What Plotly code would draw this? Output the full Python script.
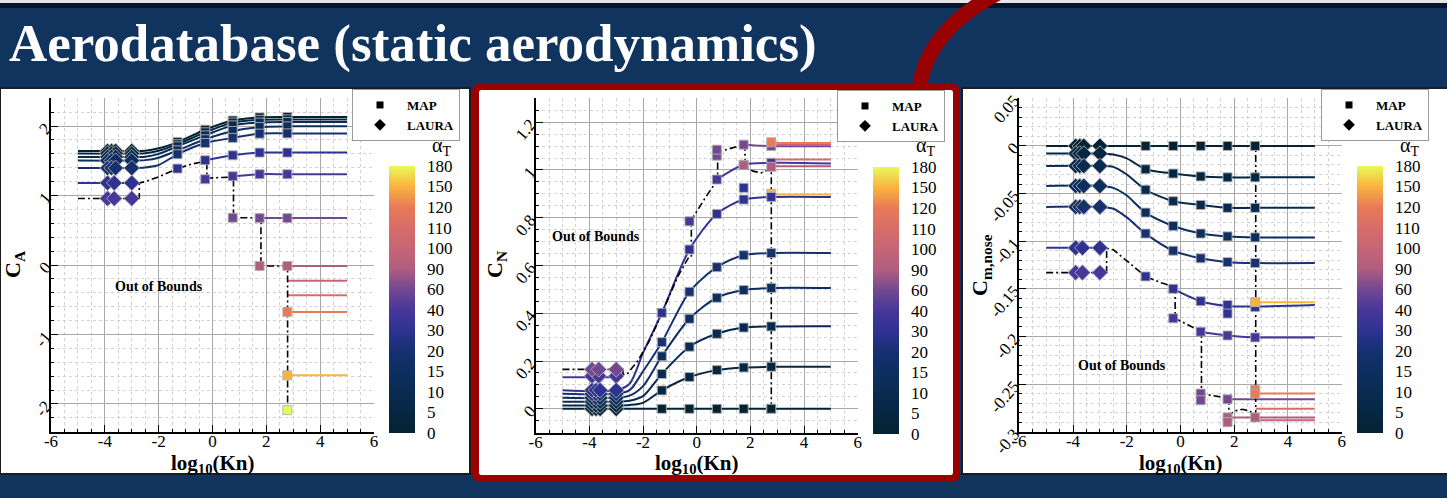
import plotly.graph_objects as go
import plotly.colors as pc

W, H = 1447, 498
FONT = "Liberation Serif"

# ---------------- data ----------------
ALPHA_LEVELS = [0, 5, 10, 15, 20, 30, 40, 60, 90, 100, 110, 120, 150, 180]
ALPHA_LABELS = ["0", "5", "10", "15", "20", "30", "40", "60", "90", "100", "110", "120", "150", "180"]

KNOTS = [-5, -3, -2.5, -2, -1.3, -0.27, 0.75, 1.75, 2.78, 5]
MAP_KN = [-1.3, -0.27, 0.75, 1.75, 2.78]
LAURA_KN = [-3.9, -3.75, -3.6, -3.0]
LAURA_KN_HI = [-3.9, -3.65, -3.0]

X_TICKS = [-6, -4, -2, 0, 2, 4, 6]
X_TICK_TEXT = ["-6", "-4", "-2", "0", "2", "4", "6"]

# ---- C_A ----
CA_BASE_ALPHA = [0, 5, 10, 15, 20]
CA_BASE = [
    [1.641, 1.641, 1.645, 1.68, 1.77, 1.948, 2.08, 2.125, 2.13, 2.13],
    [1.604, 1.604, 1.61, 1.645, 1.74, 1.91, 2.05, 2.09, 2.096, 2.096],
    [1.555, 1.555, 1.56, 1.60, 1.709, 1.866, 2.01, 2.05, 2.058, 2.058],
    [1.503, 1.503, 1.51, 1.545, 1.65, 1.81, 1.93, 1.986, 1.996, 1.996],
    [1.397, 1.397, 1.405, 1.44, 1.594, 1.756, 1.83, 1.891, 1.895, 1.895],
]
CA_SEGS = [
    (30, [-5, -2.72], [1.182, 1.182]),
    (30, [-0.27, 0.75, 1.75, 2.78, 5], [1.508, 1.579, 1.618, 1.618, 1.618]),
    (40, [0.75, 1.75, 2.78, 5], [1.278, 1.307, 1.307, 1.307]),
    (60, [1.75, 2.78, 5], [0.675, 0.675, 0.675]),
    (90, [2.78, 5], [-0.014, -0.014]),
    (100, [2.8, 5], [-0.225, -0.225]),
    (110, [2.8, 5], [-0.435, -0.435]),
    (120, [2.78, 5], [-0.675, -0.675]),
    (150, [2.78, 5], [-1.589, -1.589]),
]
CA_MAP = [
    (30, [-1.3, -0.27, 0.75, 1.75, 2.78], [1.388, 1.508, 1.579, 1.618, 1.618]),
    (40, [-0.27, 0.75, 1.75, 2.78], [1.235, 1.278, 1.307, 1.307]),
    (60, [0.75, 1.75, 2.78], [0.68, 0.675, 0.675]),
    (90, [1.75, 2.78], [-0.014, -0.014]),
    (120, [2.78], [-0.675]),
    (150, [2.78], [-1.589]),
    (180, [2.78], [-2.09]),
]
CA_LAURA = [
    (30, LAURA_KN_HI, [1.182, 1.182, 1.182]),
    (40, LAURA_KN_HI, [0.957, 0.957, 0.957]),
]
CA_BOUND_X = [-5, -2.72, -2.72, -2.5, -2.0, -1.3, -0.8, -0.21, -0.21, 0.78, 0.78, 1.8, 1.8, 2.79, 2.79]
CA_BOUND_Y = [0.957, 0.957, 1.182, 1.20, 1.27, 1.388, 1.45, 1.50, 1.25, 1.268, 0.68, 0.68, -0.014, -0.014, -2.09]
CA_Y_TICKS = [-2, -1, 0, 1, 2]
CA_Y_TEXT = ["-2", "-1", "0", "1", "2"]

# ---- C_N ----
CN_BASE_ALPHA = [0, 5, 10, 15, 20, 30]
CN_BASE = [
    [0, 0, 0, 0, 0, 0, 0, 0, 0, 0],
    [0.014, 0.014, 0.016, 0.025, 0.077, 0.133, 0.162, 0.173, 0.176, 0.176],
    [0.030, 0.030, 0.034, 0.053, 0.146, 0.26, 0.314, 0.340, 0.345, 0.346],
    [0.046, 0.046, 0.055, 0.095, 0.22, 0.377, 0.465, 0.497, 0.506, 0.506],
    [0.063, 0.063, 0.078, 0.157, 0.279, 0.49, 0.593, 0.643, 0.652, 0.652],
    [0.078, 0.078, 0.105, 0.234, 0.402, 0.667, 0.816, 0.876, 0.887, 0.887],
]
CN_SEGS = [
    (40, [-5, -2.75], [0.132, 0.132]),
    (40, [0.75, 1.75, 2.78, 5], [0.96, 1.022, 1.03, 1.027]),
    (60, [1.75, 2.78, 5], [1.106, 1.10, 1.099]),
    (90, [2.78, 5], [1.016, 1.016]),
    (100, [2.8, 5], [1.105, 1.105]),
    (110, [2.8, 5], [1.044, 1.044]),
    (120, [2.78, 5], [1.113, 1.113]),
    (150, [2.78, 5], [0.897, 0.897]),
]
CN_MAP = [
    (180, [2.76], [0.0]),
    (30, [1.75], [0.925]),
    (40, [-0.27, 0.75, 1.75, 2.78], [0.785, 0.96, 1.022, 1.03]),
    (60, [0.75, 0.75, 1.75, 2.78], [1.06, 1.085, 1.106, 1.10]),
    (90, [1.75, 2.78], [1.02, 1.013]),
    (120, [2.78], [1.116]),
    (150, [2.78], [0.90]),
]
CN_LAURA = [
    (40, LAURA_KN_HI, [0.137, 0.137, 0.137]),
    (60, LAURA_KN_HI, [0.165, 0.165, 0.165]),
]
CN_BOUND_X = [-5, -2.75, -2.75, -2.6, -2.2, -1.74, -1.29, -0.7, -0.27, -0.2, -0.2, 0.3, 0.78, 0.78,
              1.75, 1.8, 1.8, 2.1, 2.4, 2.78, 2.78]
CN_BOUND_Y = [0.165, 0.165, 0.144, 0.144, 0.20, 0.29, 0.402, 0.555, 0.64, 0.64, 0.79, 0.88, 0.96, 1.075,
              1.106, 1.106, 1.013, 0.995, 0.988, 1.005, 0.0]
CN_Y_TICKS = [0, 0.2, 0.4, 0.6, 0.8, 1.0, 1.2]
CN_Y_TEXT = ["0", "0.2", "0.4", "0.6", "0.8", "1", "1.2"]

# ---- C_m,nose ----
CM_BASE_ALPHA = [0, 5, 10, 15, 20]
CM_BASE = [
    [0, 0, 0, 0, 0, 0, 0, 0, 0, 0],
    [-0.008, -0.008, -0.009, -0.013, -0.0245, -0.029, -0.032, -0.033, -0.033, -0.033],
    [-0.021, -0.021, -0.022, -0.030, -0.046, -0.058, -0.062, -0.065, -0.065, -0.065],
    [-0.042, -0.042, -0.044, -0.052, -0.070, -0.084, -0.092, -0.095, -0.096, -0.096],
    [-0.064, -0.064, -0.066, -0.075, -0.092, -0.110, -0.118, -0.122, -0.123, -0.123],
]
CM_SEGS = [
    (30, [-5, -2.75], [-0.107, -0.107]),
    (30, [-0.27, 0.75, 1.75, 2.78, 5], [-0.150, -0.163, -0.168, -0.1685, -0.167]),
    (40, [0.75, 1.75, 2.78, 5], [-0.195, -0.199, -0.201, -0.201]),
    (60, [1.75, 2.78, 5], [-0.266, -0.266, -0.266]),
    (90, [1.75, 2.78, 5], [-0.285, -0.285, -0.285]),
    (100, [2.8, 5], [-0.288, -0.288]),
    (110, [2.8, 5], [-0.276, -0.276]),
    (120, [2.78, 5], [-0.26, -0.26]),
    (150, [2.78, 5], [-0.164, -0.164]),
]
CM_MAP = [
    (180, [2.76], [0.0]),
    (30, [-1.3, -0.27, 0.75, 1.75, 1.75, 2.78], [-0.137, -0.150, -0.163, -0.167, -0.176, -0.169]),
    (40, [-0.27, 0.75, 1.75, 2.78], [-0.181, -0.195, -0.199, -0.201]),
    (60, [0.75, 0.75, 1.75], [-0.260, -0.267, -0.266]),
    (90, [1.75, 1.75, 2.78], [-0.285, -0.29, -0.285]),
    (120, [2.78, 2.78], [-0.256, -0.26]),
    (150, [2.78], [-0.164]),
]
CM_LAURA = [
    (30, LAURA_KN_HI, [-0.107, -0.107, -0.107]),
    (40, LAURA_KN_HI, [-0.133, -0.133, -0.133]),
]
CM_BOUND_X = [-5, -2.75, -2.75, -2.5, -1.94, -1.3, -0.69, -0.27, -0.2, -0.2, 0.78, 0.78, 1.75, 1.8, 1.8,
              2.05, 2.3, 2.55, 2.8, 2.8]
CM_BOUND_Y = [-0.133, -0.133, -0.1075, -0.109, -0.122, -0.137, -0.144, -0.148, -0.148, -0.181, -0.195,
              -0.26, -0.265, -0.265, -0.2825, -0.278, -0.2765, -0.278, -0.2825, 0.0]
CM_Y_TICKS = [-0.3, -0.25, -0.2, -0.15, -0.1, -0.05, 0, 0.05]
CM_Y_TEXT = ["-0.3", "-0.25", "-0.2", "-0.15", "-0.1", "-0.05", "0", "0.05"]

# ---------------- helpers ----------------
THERMAL = pc.cmocean.thermal


def alpha_color(a):
    return pc.sample_colorscale(THERMAL, [a / 180.0])[0]


BAR_SCALE = [[i / (len(ALPHA_LEVELS) - 1), alpha_color(a)] for i, a in enumerate(ALPHA_LEVELS)]


def PX(p):
    return p / W


def PY(p):
    return 1 - p / H


fig = go.Figure()

MAP_EDGE = dict(width=1, color="rgba(175,175,175,0.9)")


def add_panel(k, base_alpha, base_rows, segs, map_pts, laura_pts, bx, by):
    xa = "x" if k == 1 else f"x{k}"
    ya = "y" if k == 1 else f"y{k}"
    common = dict(xaxis=xa, yaxis=ya, showlegend=False, hoverinfo="skip")
    for a, row in zip(base_alpha, base_rows):
        fig.add_trace(go.Scatter(x=KNOTS, y=row, mode="lines",
                                 line=dict(color=alpha_color(a), width=2, shape="spline", smoothing=0.8),
                                 **common))
    for a, xs, ys in segs:
        fig.add_trace(go.Scatter(x=xs, y=ys, mode="lines",
                                 line=dict(color=alpha_color(a), width=2,
                                           shape="spline" if len(xs) > 2 else "linear", smoothing=0.8),
                                 **common))
    fig.add_trace(go.Scatter(x=bx, y=by, mode="lines",
                             line=dict(color="black", width=1.6, dash="7px,3px,2px,3px"), **common))
    for a, xs, ys in map_pts:
        fig.add_trace(go.Scatter(x=xs, y=ys, mode="markers",
                                 marker=dict(symbol="square", size=9, color=alpha_color(a), line=MAP_EDGE),
                                 **common))
    for a, xs, ys in laura_pts:
        fig.add_trace(go.Scatter(x=xs, y=ys, mode="markers",
                                 marker=dict(symbol="diamond", size=12, color=alpha_color(a), line=MAP_EDGE),
                                 **common))
    for a, row in zip(base_alpha, base_rows):
        fig.add_trace(go.Scatter(x=LAURA_KN, y=[row[0]] * len(LAURA_KN), mode="markers",
                                 marker=dict(symbol="diamond", size=12, color=alpha_color(a), line=MAP_EDGE),
                                 **common))
        fig.add_trace(go.Scatter(x=MAP_KN, y=[row[KNOTS.index(v)] for v in MAP_KN], mode="markers",
                                 marker=dict(symbol="square", size=9, color=alpha_color(a), line=MAP_EDGE),
                                 **common))


add_panel(1, CA_BASE_ALPHA, CA_BASE, CA_SEGS, CA_MAP, CA_LAURA, CA_BOUND_X, CA_BOUND_Y)
add_panel(2, CN_BASE_ALPHA, CN_BASE, CN_SEGS, CN_MAP, CN_LAURA, CN_BOUND_X, CN_BOUND_Y)
add_panel(3, CM_BASE_ALPHA, CM_BASE, CM_SEGS, CM_MAP, CM_LAURA, CM_BOUND_X, CM_BOUND_Y)

# ---------------- layout per panel ----------------
PANELS = [
    dict(plot=(51, 374, 98.3, 431.7), bar=(389, 166, 433), leg=(352, 89),
         yrange=[-2.4, 2.4], yt=CA_Y_TICKS, ytt=CA_Y_TEXT, ymin=0.2,
         ytitle="<b>C<sub>A</sub></b>", ytx=14, oob=(-2.0, -0.31)),
    dict(plot=(535.7, 857.7, 98.3, 432.7), bar=(873.3, 167, 434), leg=(837, 90),
         yrange=[-0.1, 1.3], yt=CN_Y_TICKS, ytt=CN_Y_TEXT, ymin=0.05,
         ytitle="<b>C<sub>N</sub></b>", ytx=496, oob=(-3.75, 0.723)),
    dict(plot=(1019.3, 1341.7, 98.3, 431.7), bar=(1357.3, 166, 433), leg=(1321, 89),
         yrange=[-0.3, 0.05], yt=CM_Y_TICKS, ytt=CM_Y_TEXT, ymin=0.01,
         ytitle="<b>C<sub>m,nose</sub></b>", ytx=981, oob=(-2.18, -0.231)),
]

TICKFONT = dict(family=FONT, size=17, color="black")
layout = dict(
    width=W, height=H, margin=dict(l=0, r=0, t=0, b=0, pad=0, autoexpand=False),
    paper_bgcolor="#10345e", plot_bgcolor="white",
    font=dict(family=FONT, color="black"),
    annotations=[], shapes=[],
)

for i, p in enumerate(PANELS):
    k = i + 1
    xs = "" if k == 1 else str(k)
    x0, x1, yt, yb = p["plot"]
    layout["xaxis" + xs] = dict(
        domain=[PX(x0), PX(x1)], anchor="y" + xs, range=[-6, 6],
        tickvals=X_TICKS, ticktext=X_TICK_TEXT, tickfont=TICKFONT, ticklabelstandoff=-7,
        ticks="inside", ticklen=7, tickcolor="black",
        showline=True, linewidth=2, linecolor="black",
        showgrid=True, gridcolor="#a8a8a8", gridwidth=1, zeroline=False,
        minor=dict(dtick=0.5, tick0=0, ticks="inside", ticklen=3, tickcolor="black",
                   showgrid=True, gridcolor="#d2d2d2", griddash="dot", gridwidth=1),
    )
    layout["yaxis" + xs] = dict(
        domain=[PY(yb), PY(yt)], anchor="x" + xs, range=p["yrange"],
        tickvals=p["yt"], ticktext=p["ytt"], tickfont=TICKFONT, tickangle=-50,
        ticks="inside", ticklen=7, tickcolor="black",
        showline=True, linewidth=2, linecolor="black",
        showgrid=True, gridcolor="#a8a8a8", gridwidth=1, zeroline=False,
        minor=dict(dtick=p["ymin"], tick0=0, ticks="inside", ticklen=3, tickcolor="black",
                   showgrid=True, gridcolor="#d2d2d2", griddash="dot", gridwidth=1),
    )
    lname = "legend" if k == 1 else f"legend{k}"
    lx, ly = p["leg"]
    layout[lname] = dict(x=PX(lx), y=PY(ly), xanchor="left", yanchor="top",
                         bgcolor="white", bordercolor="#9a9a9a", borderwidth=1,
                         font=dict(family=FONT, size=13, color="black"),
                         itemwidth=44, tracegroupgap=0, itemclick=False)
    fig.add_trace(go.Scatter(x=[None], y=[None], mode="markers", name="<b>MAP</b>", legend=lname,
                             marker=dict(symbol="square", size=7, color="black"),
                             xaxis="x" + xs, yaxis="y" + xs))
    fig.add_trace(go.Scatter(x=[None], y=[None], mode="markers", name="<b>LAURA</b>", legend=lname,
                             marker=dict(symbol="diamond", size=9, color="black"),
                             xaxis="x" + xs, yaxis="y" + xs))
    bx, btop, bbot = p["bar"]
    fig.add_trace(go.Scatter(
        x=[None], y=[None], mode="markers", showlegend=False, hoverinfo="skip",
        xaxis="x" + xs, yaxis="y" + xs,
        marker=dict(color=[0], cmin=0, cmax=len(ALPHA_LEVELS) - 1, colorscale=BAR_SCALE, showscale=True,
                    colorbar=dict(x=PX(bx), xanchor="left", y=PY((btop + bbot) / 2), yanchor="middle",
                                  len=bbot - btop, lenmode="pixels", thickness=26, thicknessmode="pixels",
                                  xpad=0, ypad=0, outlinewidth=0,
                                  tickvals=list(range(len(ALPHA_LEVELS))), ticktext=ALPHA_LABELS,
                                  ticks="outside", ticklen=9, tickcolor="rgba(0,0,0,0)",
                                  tickfont=dict(family=FONT, size=17, color="black"))),
    ))
    layout["annotations"] += [
        dict(text="α<sub>T</sub>", x=PX(bx + 52), y=PY(146), xref="paper", yref="paper",
             showarrow=False, xanchor="center", yanchor="middle",
             font=dict(family=FONT, size=20, color="black")),
        dict(text="<b>log<sub>10</sub>(Kn)</b>", x=PX((x0 + x1) / 2), y=PY(464), xref="paper", yref="paper",
             showarrow=False, xanchor="center", yanchor="middle",
             font=dict(family=FONT, size=21, color="black")),
        dict(text=p["ytitle"], x=PX(p["ytx"]), y=PY(265), xref="paper", yref="paper", textangle=-90,
             showarrow=False, xanchor="center", yanchor="middle",
             font=dict(family=FONT, size=22, color="black")),
        dict(text="<b>Out of Bounds</b>", x=p["oob"][0], y=p["oob"][1], xref="x" + xs, yref="y" + xs,
             showarrow=False, font=dict(family=FONT, size=14, color="black")),
    ]

layout["annotations"].append(dict(
    text="<b>Aerodatabase (static aerodynamics)</b>", x=PX(7), y=PY(44), xref="paper", yref="paper",
    showarrow=False, xanchor="left", yanchor="middle",
    font=dict(family=FONT, size=53, color="white")))


# ---------------- slide decorations ----------------
def rect(x0, y0, x1, y1, fill, line=None, lw=0):
    return dict(type="rect", xref="paper", yref="paper", x0=PX(x0), x1=PX(x1), y0=PY(y1), y1=PY(y0),
                fillcolor=fill, line=dict(color=line or fill, width=lw), layer="below")


def rounded(x0, y0, x1, y1, r):
    pts = [
        f"M {PX(x0 + r)},{PY(y0)}", f"L {PX(x1 - r)},{PY(y0)}", f"Q {PX(x1)},{PY(y0)} {PX(x1)},{PY(y0 + r)}",
        f"L {PX(x1)},{PY(y1 - r)}", f"Q {PX(x1)},{PY(y1)} {PX(x1 - r)},{PY(y1)}",
        f"L {PX(x0 + r)},{PY(y1)}", f"Q {PX(x0)},{PY(y1)} {PX(x0)},{PY(y1 - r)}",
        f"L {PX(x0)},{PY(y0 + r)}", f"Q {PX(x0)},{PY(y0)} {PX(x0 + r)},{PY(y0)} Z",
    ]
    return " ".join(pts)


layout["shapes"] += [
    rect(0, 0, W, 3, "#e6e6e6"),
    rect(0, 3, W, 8, "#08142b"),
    dict(type="path", xref="paper", yref="paper", layer="below",
         path=f"M {PX(1000)},{PY(-8)} Q {PX(926)},{PY(30)} {PX(919)},{PY(90)}",
         line=dict(color="#990000", width=15)),
    rect(0, 88, 470, 474, "white", "#1c1c1c", 2),
    rect(962, 88, W + 2, 474, "white", "#1c1c1c", 2),
    dict(type="path", xref="paper", yref="paper", layer="below",
         path=rounded(475.5, 86.5, 956.5, 478.5, 6), fillcolor="white",
         line=dict(color="#990000", width=7)),
]

fig.update_layout(**layout)
fig.write_html("out.html")
